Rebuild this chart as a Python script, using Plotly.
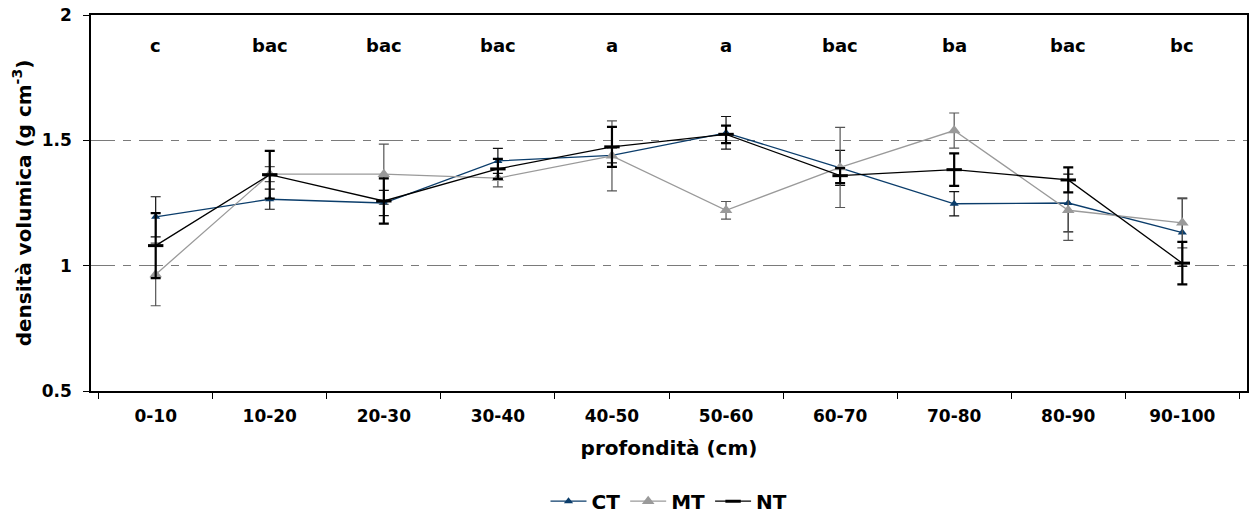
import plotly.graph_objects as go

categories = ["0-10", "10-20", "20-30", "30-40", "40-50", "50-60", "60-70", "70-80", "80-90", "90-100"]
ct = [1.195, 1.265, 1.25, 1.418, 1.44, 1.53, 1.39, 1.247, 1.25, 1.132]
mt = [0.965, 1.365, 1.365, 1.349, 1.438, 1.221, 1.392, 1.539, 1.221, 1.171]
nt = [1.08, 1.363, 1.258, 1.386, 1.474, 1.524, 1.359, 1.383, 1.342, 1.01]
ct_err = [0.08, 0.04, 0.05, 0.05, 0.03, 0.065, 0.07, 0.048, 0.115, 0.135]
mt_err = [0.125, 0.03, 0.12, 0.035, 0.14, 0.035, 0.16, 0.07, 0.12, 0.1]
nt_err = [0.13, 0.095, 0.09, 0.04, 0.08, 0.035, 0.03, 0.065, 0.05, 0.085]
letters = ["c", "bac", "bac", "bac", "a", "a", "bac", "ba", "bac", "bc"]
letter_y = 1.88

FONT = "DejaVu Sans"

fig = go.Figure()
fig.add_trace(go.Scatter(
    x=categories, y=ct, name="<b>CT</b>", mode="lines+markers",
    line=dict(color="#0b3d6b", width=1.3),
    marker=dict(symbol="triangle-up", size=8, color="#0b3d6b"),
    error_y=dict(type="data", array=ct_err, color="#111111", thickness=1.2, width=5),
))
fig.add_trace(go.Scatter(
    x=categories, y=mt, name="<b>MT</b>", mode="lines+markers",
    line=dict(color="#9a9a9a", width=1.3),
    marker=dict(symbol="triangle-up", size=11, color="#9a9a9a"),
    error_y=dict(type="data", array=mt_err, color="#555555", thickness=1.2, width=5),
))
fig.add_trace(go.Scatter(
    x=categories, y=nt, name="<b>NT</b>", mode="lines+markers",
    line=dict(color="#000000", width=1.3),
    marker=dict(symbol="line-ew", size=11, color="#000000", line=dict(color="#000000", width=3)),
    error_y=dict(type="data", array=nt_err, color="#000000", thickness=2.2, width=5),
))

for c, t in zip(categories, letters):
    fig.add_annotation(x=c, y=letter_y, text="<b>%s</b>" % t, showarrow=False,
                       font=dict(family=FONT, size=18, color="#000000"))

fig.update_layout(
    width=1249, height=523,
    margin=dict(l=91, r=2, t=15, b=126),
    paper_bgcolor="white", plot_bgcolor="white",
    font=dict(family=FONT, color="#000000"),
    showlegend=True,
    legend=dict(orientation="h", x=0.5, xanchor="center", y=-0.293, yanchor="middle",
                font=dict(family=FONT, size=20, color="#000000"),
                itemwidth=36, tracegroupgap=0),
)
fig.update_xaxes(
    type="category", tickson="boundaries", ticks="outside", ticklen=6, tickcolor="#000000",
    showline=True, linecolor="#000000", linewidth=1.5, mirror=True, showgrid=False,
    automargin=False, ticklabelstandoff=9,
    tickfont=dict(family=FONT, size=17, color="#000000"),
    tickprefix="<b>", ticksuffix="</b>",
    title=dict(text="<b>profondità (cm)</b>", font=dict(family=FONT, size=20), standoff=16),
)
fig.update_yaxes(
    range=[0.5, 2], dtick=0.5, tick0=0.5, ticks="outside", ticklen=6, tickcolor="#000000",
    showline=True, linecolor="#000000", linewidth=1.5, mirror=True,
    showgrid=True, gridcolor="#7a7a7a", gridwidth=1, griddash="24px,8px,8px,8px",
    zeroline=False, automargin=False, ticklabelstandoff=8,
    tickfont=dict(family=FONT, size=17, color="#000000"),
    tickprefix="<b>", ticksuffix="</b>",
    title=dict(text="<b>densità volumica (g cm<sup>-3</sup>)</b>", font=dict(family=FONT, size=20), standoff=5),
)

fig.write_html("out.html", config={"displayModeBar": False},
               post_script="document.body.style.margin='0px';document.body.style.overflow='hidden';")
